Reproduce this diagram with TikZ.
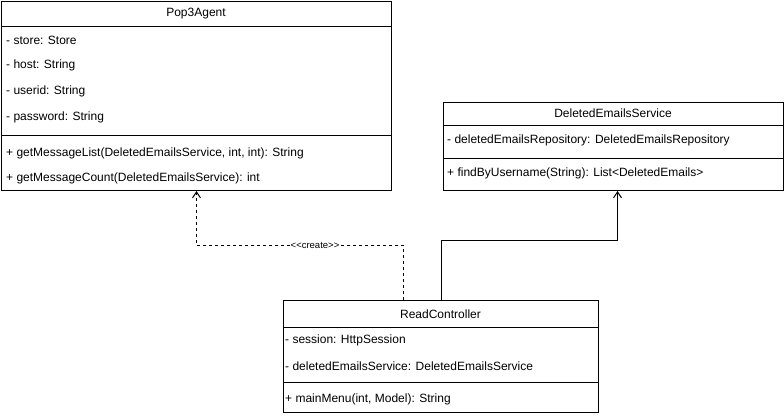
\documentclass[tikz,border=0pt]{standalone}
\usepackage{fontspec}
\newfontfamily\arial{Liberation Sans}
\usetikzlibrary{arrows.meta,calc}
\begin{document}
\begin{tikzpicture}[x=1pt,y=-1pt,
  box/.style={draw, line width=1pt, anchor=north west, inner sep=0pt},
  txt/.style={anchor=west, inner sep=0pt, font=\arial\fontsize{12}{14}\selectfont},
  ttl/.style={inner sep=0pt, font=\arial\fontsize{12}{14}\selectfont},
  sep/.style={line width=1pt},
  conn/.style={line width=1pt, -{Straight Barb[length=6pt,width=8pt]}},
  lbl/.style={fill=white, inner sep=1pt, font=\arial\fontsize{9.5}{11}\selectfont},
]
\useasboundingbox (0,0) rectangle (784,416);

% Pop3Agent
\node[box, minimum width=390pt, minimum height=189pt] (pop) at (1,1) {};
\node[ttl] (popT) at (196,14) {Pop3Agent};
\draw[sep] (1,26) -- (391,26);
\node[txt] (popA1) at (6,40) {- store: Store};
\node[txt] (popA2) at (6,65) {- host: String};
\node[txt] (popA3) at (6,91) {- userid: String};
\node[txt] (popA4) at (6,117) {- password: String};
\draw[sep] (1,135) -- (391,135);
\node[txt] (popM1) at (6,153) {+ getMessageList(DeletedEmailsService, int, int): String};
\node[txt] (popM2) at (6,178) {+ getMessageCount(DeletedEmailsService): int};

% DeletedEmailsService
\node[box, minimum width=340pt, minimum height=88pt] (des) at (443,102) {};
\node[ttl] (desT) at (613,113) {DeletedEmailsService};
\draw[sep] (443,125) -- (783,125);
\node[txt] (desA1) at (447,140) {- deletedEmailsRepository: DeletedEmailsRepository};
\draw[sep] (443,158) -- (783,158);
\node[txt] (desM1) at (447,173) {+ findByUsername(String): List<DeletedEmails>};

% ReadController
\node[box, minimum width=315pt, minimum height=112pt] (rc) at (283,300) {};
\node[ttl] (rcT) at (440.5,314) {ReadController};
\draw[sep] (283,327) -- (598,327);
\node[txt] (rcA1) at (285,340) {- session: HttpSession};
\node[txt] (rcA2) at (285,366) {- deletedEmailsService: DeletedEmailsService};
\draw[sep] (283,382) -- (598,382);
\node[txt] (rcM1) at (285,399) {+ mainMenu(int, Model): String};

% Connectors
\coordinate (rcD) at ($(rc.north west)+(120,0)$);
\draw[conn, dash pattern=on 3pt off 3pt] (rcD) -- ++(0,-55) -| (pop.south);
\node[lbl] (create) at (315,245) {<<create>>};
\draw[conn] (rc.north) -- ++(0,-60) -| ($(des.south)+(4,0)$);
\end{tikzpicture}
\end{document}
